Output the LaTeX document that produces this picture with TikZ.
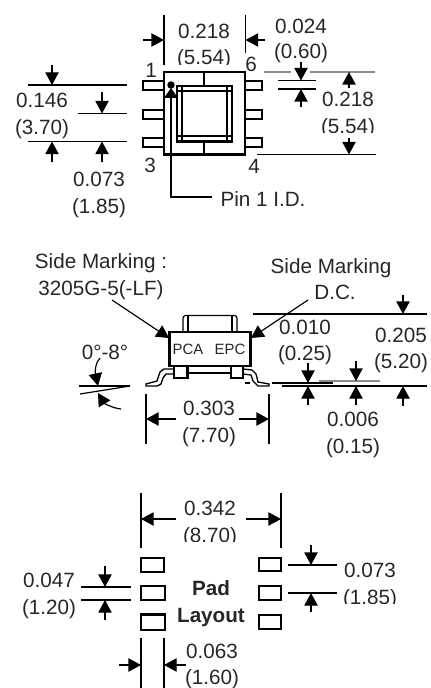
\documentclass[tikz,border=0pt]{standalone}
\usepackage{fontspec}
\setmainfont{Liberation Sans}
\usetikzlibrary{arrows.meta}
\tikzset{
  x=0.75pt,y=-0.75pt,
  txt/.style={inner sep=0pt,outer sep=0pt,anchor=base,yshift=-5.4pt,font=\fontsize{15.5pt}{18pt}\selectfont,text=black!85},
  boldtxt/.style={txt,font=\fontsize{15.5pt}{18pt}\selectfont\bfseries},
  marktxt/.style={txt,yshift=1.4pt,font=\fontsize{11.2pt}{13pt}\selectfont},
  hv/.style={line width=1.6pt},
  ln/.style={line width=1.3pt},
  thin line/.style={line width=0.9pt},
  grayline/.style={line width=0.8pt,draw=black!45},
  dimarrow/.style={line width=1pt,-{Triangle[length=9.5pt,width=10pt]}},
  pad/.style={line width=1.8pt,draw=black},
}
\begin{document}
\begin{tikzpicture}
\useasboundingbox (0,0) rectangle (430,688);
% ---------- top view
\foreach \y in {81,110,138}{
  \draw[hv] (164,\y) -- (143,\y) -- (143,\y+9) -- (164,\y+9);
  \draw[hv] (245,\y) -- (262,\y) -- (262,\y+9) -- (245,\y+9);
}
\draw[line width=2pt] (164,72) rectangle (245,154.5);
\draw[hv] (204,72) -- (204,86);
\draw[hv] (204,142) -- (204,154);
\draw[line width=1.9pt] (177,86) rectangle (232,141.5);
\draw[line width=1.2pt] (182,86) -- (182,141);
\draw[line width=1.2pt] (227,86) -- (227,141);
\draw[line width=1.2pt] (177,91) -- (232,91);
\draw[line width=1.2pt] (177,136) -- (232,136);
\fill (171,85) circle[radius=2.8pt];
\node[txt] (pinid) at (263,199) {Pin 1 I.D.};
\coordinate (pinbend) at (171,197);
\coordinate (pintip) at (171,88);
\draw[ln] (pinid.west |- pinbend) ++(-9,0) -- (pinbend) -- (171,98);
\fill (pintip) -- (178,98) -- (164,98) -- cycle;
\node[txt] (n1) at (151,70) {1};
\node[txt] (n6) at (251,64) {6};
\node[txt] (n3) at (150,165) {3};
\node[txt] (n4) at (254,166) {4};
\draw[ln] (164,15) -- (164,65);
\draw[ln] (245.5,15) -- (245.5,53);
\draw[dimarrow] (143,40) -- (164,40);
\draw[dimarrow] (265,40) -- (245.5,40);
\node[txt] (a1) at (204,31) {0.218};
\begin{scope}
\clip (170,40) rectangle (240,64.5);
\node[txt] (a2) at (204,57) {(5.54)};
\end{scope}
\node[txt] (b1) at (301,26) {0.024};
\node[txt] (b2) at (301,51) {(0.60)};
\draw[ln] (28,85) -- (127,85);
\draw[ln] (78,113.5) -- (127,113.5);
\draw[ln] (28,141.5) -- (127,141.5);
\draw[dimarrow] (52,65) -- (52,85);
\draw[dimarrow] (102,92) -- (102,113.5);
\draw[dimarrow] (52,162) -- (52,141.5);
\draw[dimarrow] (102,162) -- (102,141.5);
\node[txt] (c1) at (42,100) {0.146};
\node[txt] (c2) at (42,127) {(3.70)};
\node[txt] (d1) at (99,179) {0.073};
\node[txt] (d2) at (99,206) {(1.85)};
\draw[grayline] (264,72) -- (291,72);
\draw[grayline] (310,72) -- (375,72);
\draw[ln] (278,80.5) -- (316,80.5);
\draw[ln] (278,89) -- (316,89);
\draw[dimarrow] (301,62) -- (301,80.5);
\draw[dimarrow] (301,107) -- (301,89);
\draw[dimarrow] (349,88) -- (349,72);
\draw[ln] (257,154.5) -- (376,154.5);
\draw[dimarrow] (349,138) -- (349,154.5);
\node[txt] (e1) at (348,99) {0.218};
\begin{scope}
\clip (310,110) rectangle (385,132.5);
\node[txt] (e2) at (348,126) {(5.54)};
\end{scope}
% ---------- side view
\node[txt] (s1) at (101,261) {Side Marking :};
\node[txt] (s2) at (101,288) {3205G-5(-LF)};
\node[txt] (s3) at (331,266) {Side Marking};
\node[txt] (s4) at (335,292) {D.C.};
\draw[thin line,-{Triangle[length=9.5pt,width=10pt]}] (112,300) -- (169,338);
\draw[thin line,-{Triangle[length=9.5pt,width=10pt]}] (308,300) -- (251,338);
\draw[thin line,rounded corners=2pt] (183,332) -- (183,315.5) -- (237,315.5) -- (237,332);
\draw[thin line] (188,332) -- (188,316);
\draw[thin line] (232,332) -- (232,316);
\draw[line width=1.9pt] (169.5,332) rectangle (250.5,366);
\node[marktxt] (pca) at (188,349) {PCA};
\node[marktxt] (epc) at (230,349) {EPC};
\draw[hv] (174,366) rectangle (187.5,378);
\draw[hv] (231,366) rectangle (243,378);
\draw[hv] (187.5,373) -- (231,373);
\draw[line width=1pt] (174,369) -- (164,369) -- (160,372) -- (157,381) -- (146,384) -- (146,386) -- (157,386) -- (161,384) -- (163,378) -- (166,374) -- (174,374);
\draw[line width=1pt] (243,369) -- (252,370) -- (256,374) -- (258,382) -- (269,384) -- (269,386) -- (258,386) -- (253,381) -- (251,375) -- (243,374);
\draw[line width=0.9pt] (245,383) -- (250,383);
\node[txt] (ang) at (105,352) {0°-8°};
\draw[ln] (79,386) -- (130,386);
\draw[thin line] (80,394) -- (130,386);
\draw[line width=0.9pt,-{Triangle[length=9.5pt,width=10pt]}] (100,358) .. controls (95,363) and (95,372) .. (98,386);
\draw[line width=0.9pt,-{Triangle[length=9.5pt,width=10pt]}] (121,409) .. controls (112,408) and (104,403) .. (98,393);
\draw[ln] (146,394) -- (146,444);
\draw[ln] (269,394) -- (269,444);
\draw[dimarrow] (176,419) -- (146,419);
\draw[dimarrow] (239,419) -- (269,419);
\node[txt] (f1) at (209,408) {0.303};
\node[txt] (f2) at (209,435) {(7.70)};
\draw[ln] (253,314) -- (427,314);
\draw[dimarrow] (403,295) -- (403,314);
\node[txt] (g1) at (401,335) {0.205};
\node[txt] (g2) at (401,361) {(5.20)};
\node[txt] (h1) at (305,327) {0.010};
\node[txt] (h2) at (305,353) {(0.25)};
\draw[grayline] (319,381) -- (380,381);
\draw[ln] (272,383) -- (333,383);
\draw[ln] (282,386) -- (427,386);
\draw[dimarrow] (308,363) -- (308,383);
\draw[dimarrow] (356,361) -- (356,381);
\draw[dimarrow] (308,405) -- (308,386);
\draw[dimarrow] (356,405) -- (356,386);
\draw[dimarrow] (403,406) -- (403,386);
\node[txt] (i1) at (353,419) {0.006};
\node[txt] (i2) at (353,446) {(0.15)};
% ---------- pad layout
\draw[ln] (141,493) -- (141,548);
\draw[ln] (281,493) -- (281,548);
\draw[dimarrow] (176,519) -- (141,519);
\draw[dimarrow] (246,519) -- (281,519);
\node[txt] (j1) at (210,508) {0.342};
\begin{scope}
\clip (175,520) rectangle (245,541);
\node[txt] (j2) at (210,535) {(8.70)};
\end{scope}
\draw[pad] (141,558) rectangle (164,572);
\draw[pad] (141,586) rectangle (165,600);
\draw[pad] (141,614.5) rectangle (165,630);
\draw[pad] (259,558) rectangle (281,571);
\draw[pad] (259,586) rectangle (281,600);
\draw[pad] (259,615) rectangle (281,629);
\node[boldtxt] (p1) at (211,588) {Pad};
\node[boldtxt] (p2) at (211,615) {Layout};
\draw[ln] (81,587) -- (131,587);
\draw[ln] (81,600) -- (131,600);
\draw[dimarrow] (105,566) -- (105,587);
\draw[dimarrow] (105,620) -- (105,600);
\node[txt] (k1) at (49,580) {0.047};
\node[txt] (k2) at (49,607) {(1.20)};
\draw[ln] (288,565) -- (337,565);
\draw[ln] (288,593) -- (337,593);
\draw[dimarrow] (311,545) -- (311,565);
\draw[dimarrow] (311,612) -- (311,593);
\node[txt] (l1) at (370,570) {0.073};
\begin{scope}
\clip (335,585) rectangle (405,603);
\node[txt] (l2) at (370,597) {(1.85)};
\end{scope}
\draw[ln] (141,638) -- (141,688);
\draw[ln] (164,638) -- (164,688);
\draw[dimarrow] (119,665) -- (141,665);
\draw[dimarrow] (186,665) -- (164,665);
\node[txt] (m1) at (212,651) {0.063};
\node[txt] (m2) at (212,677) {(1.60)};
\end{tikzpicture}
\end{document}
